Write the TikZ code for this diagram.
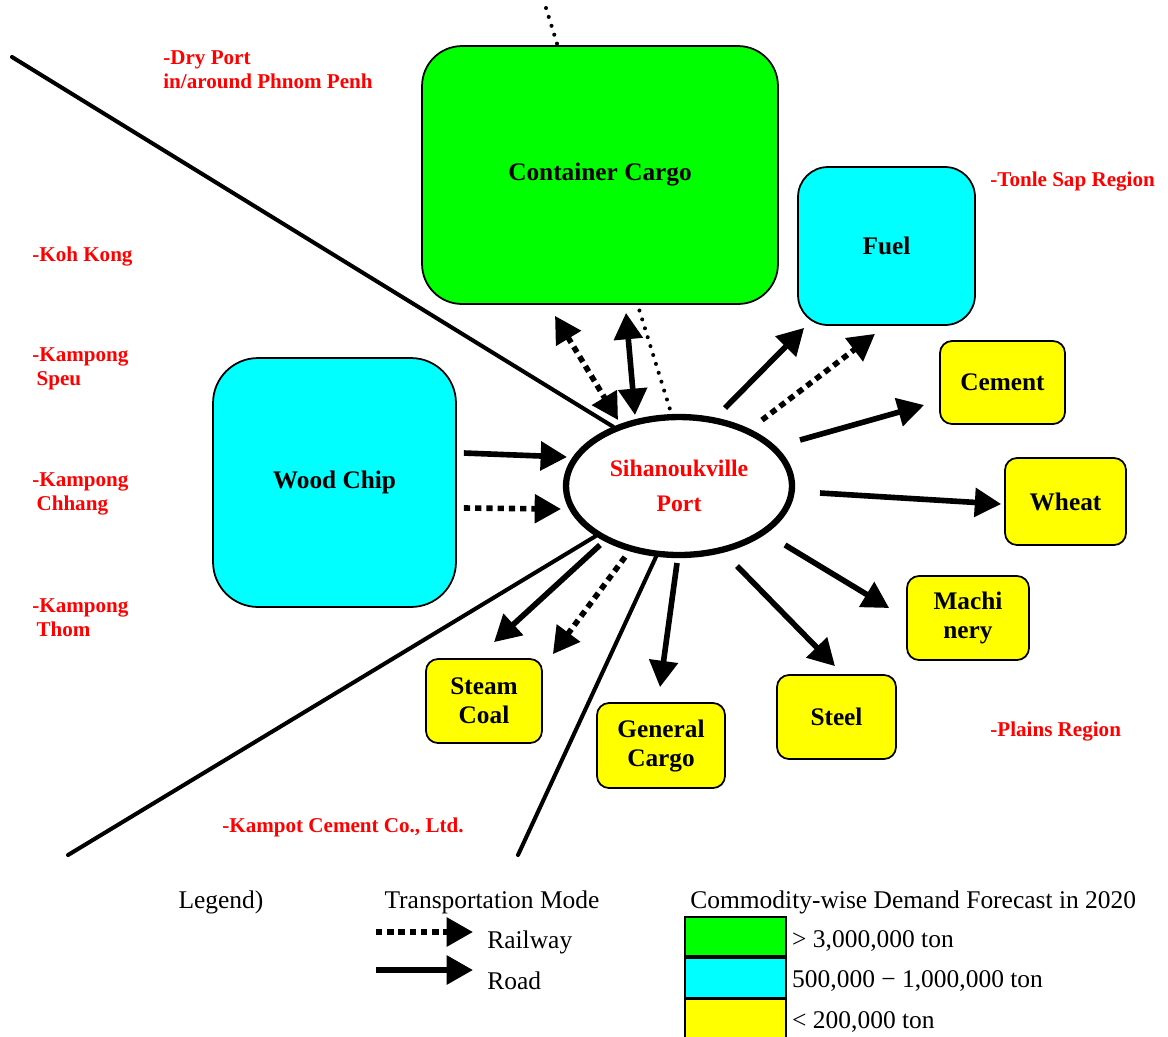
\documentclass[tikz,border=0pt]{standalone}
\usepackage{fontspec}
\setmainfont{Liberation Serif}
\usepackage{tikz}
\usetikzlibrary{arrows.meta,positioning,calc,backgrounds,shapes.geometric}
\definecolor{bulkgreen}{RGB}{0,255,0}
\definecolor{midcyan}{RGB}{0,255,255}
\definecolor{smallyellow}{RGB}{255,255,0}
\definecolor{regionred}{RGB}{255,0,0}

\begin{document}
\begin{tikzpicture}[
    x=0.02cm, y=-0.02cm,
    every node/.style={align=center},
    commodity/.style={rectangle, draw=black, line width=1pt, inner sep=0pt, font=\fontsize{14.4}{16.5}\selectfont\bfseries},
    big/.style={commodity, rounded corners=0.8cm},
    small/.style={commodity, fill=smallyellow, rounded corners=0.24cm, minimum width=2.4cm, minimum height=1.68cm},
    port/.style={ellipse, draw=black, line width=3.6pt, fill=white, minimum width=4.52cm, minimum height=2.76cm, inner sep=0pt, text=regionred, font=\fontsize{13.5}{19.8}\selectfont\bfseries},
    region/.style={anchor=west, align=left, inner sep=0pt, text=regionred, font=\fontsize{12}{13.6}\selectfont\bfseries},
    road/.style={line width=3.2pt, ->, >={Triangle[length=15pt,width=16pt]}},
    rail/.style={road, dash pattern=on 3.6pt off 2.8pt},
    border/.style={line width=2.3pt, line cap=round},
    dots/.style={line width=2.3pt, line cap=round, dash pattern=on 0pt off 5.3pt},
    legtext/.style={inner sep=0pt, font=\fontsize{14.5}{17}\selectfont},
    legbox/.style={rectangle, draw=black, line width=1pt, minimum width=2.02cm, minimum height=0.79cm, inner sep=0pt}
]
\useasboundingbox (0,0) rectangle (1168,1036);

% Commodities
\node[big, fill=bulkgreen, minimum width=7.12cm, minimum height=5.16cm] (container) at (600,175) {Container Cargo};
\node[big, fill=midcyan, rounded corners=0.6cm, minimum width=3.54cm, minimum height=3.16cm] (fuel) at (886.5,246) {Fuel};
\node[big, fill=midcyan, rounded corners=0.9cm, minimum width=4.86cm, minimum height=4.98cm] (woodchip) at (334.5,482.5) {Wood Chip};
\node[small, minimum width=2.5cm, minimum height=1.66cm] (cement) at (1002.5,382.5) {Cement};
\node[small, minimum width=2.42cm, minimum height=1.74cm] (wheat) at (1065.5,501.5) {Wheat};
\node[small, minimum width=2.44cm] (machinery) at (968,618) {Machi\\nery};
\node[small, minimum width=2.38cm] (steel) at (836.5,717) {Steel};
\node[small, minimum width=2.56cm, minimum height=1.7cm] (generalcargo) at (661,745.5) {General\\Cargo};
\node[small, minimum width=2.32cm] (steamcoal) at (484,701) {Steam\\Coal};

% Port
\node[port] (port) at (679,486) {Sihanoukville\\Port};

% Hinterland borders and the railway line
\begin{scope}[on background layer]
\coordinate (nwend) at (12,57);
\coordinate (swend) at (68,855);
\coordinate (send) at (518,855);
\coordinate (railnorth) at (546,8);
\draw[border] (nwend) -- (port.138);
\draw[border] (swend) -- (port.211);
\draw[border] (send) -- (port.252);
\draw[dots] (railnorth) -- (port.96);
\end{scope}

% Flows to and from the port
\draw[rail, <->] ($(container.south)+(-45,11)$) -- ($(port)+(-61,-66)$);
\draw[road, <->] ($(container.south)+(26,8)$) -- ($(port)+(-44,-71)$);
\draw[road] ($(woodchip.east)+(7,-29.5)$) -- ($(port)+(-112,-29)$);
\draw[rail] ($(woodchip.east)+(7,25.5)$) -- ($(port)+(-118,23)$);
\draw[road] ($(port)+(46,-78)$) -- ($(fuel.south west)+(7,2)$);
\draw[rail] ($(port)+(83,-66)$) -- ($(fuel.south)+(-11.5,8)$);
\draw[road] ($(port)+(121,-46)$) -- ($(cement.west)+(-15,22.5)$);
\draw[road] ($(port)+(141,7)$) -- ($(wheat.west)+(-3,2.5)$);
\draw[road] ($(port)+(106,59)$) -- ($(machinery.west)+(-17,-10)$);
\draw[road] ($(port)+(58,80)$) -- ($(steel.north)+(-1.5,-8)$);
\draw[road] ($(port)+(-2,77)$) -- ($(generalcargo.north)+(-1,-15)$);
\draw[road] ($(port)+(-79,59)$) -- ($(steamcoal.north)+(10,-16)$);
\draw[rail] ($(port)+(-54,71)$) -- ($(steamcoal.north east)+(10,-4)$);

% Regions
\node[region] (dryport) at (163,70) {-Dry Port\\in/around Phnom Penh};
\node[region] (tonlesap) at (990,182) {-Tonle Sap Region};
\node[region] (kohkong) at (32,256) {-Koh Kong};
\node[region] (speu) at (32,368.5) {-Kampong\\\hspace*{0.2em}Speu};
\node[region] (chhang) at (32,493.5) {-Kampong\\\hspace*{0.2em}Chhang};
\node[region] (thom) at (32,618) {-Kampong\\\hspace*{0.2em}Thom};
\node[region] (plains) at (990,731) {-Plains Region};
\node[region] (kampot) at (222,827) {-Kampot Cement Co., Ltd.};

% Legend
\node[legtext] (legend) at (221,902) {Legend)};
\node[legtext] (modetitle) at (492,902) {Transportation Mode};
\coordinate (railkey) at (376,932);
\coordinate (roadkey) at (376,970);
\draw[rail] (railkey) -- ++(97,0);
\draw[road] (roadkey) -- ++(97,0);
\node[legtext, anchor=west] (railway) at (487,942) {Railway};
\node[legtext, anchor=west] (road) at (487,981) {Road};

\node[legtext, anchor=west] (demandtitle) at (690,902) {Commodity-wise Demand Forecast in 2020};
\node[legbox, fill=bulkgreen] (keygreen) at (735.5,936.5) {};
\node[legbox, fill=midcyan, below=0pt of keygreen] (keycyan) {};
\node[legbox, fill=smallyellow, below=0pt of keycyan] (keyyellow) {};
\node[legtext, right=0.1cm of keygreen, yshift=-0.09cm] (bigrange) {> 3,000,000 ton};
\node[legtext, right=0.1cm of keycyan, yshift=-0.07cm] (midrange) {500,000 − 1,000,000 ton};
\node[legtext, right=0.1cm of keyyellow, yshift=-0.05cm] (smallrange) {< 200,000 ton};

\end{tikzpicture}
\end{document}
